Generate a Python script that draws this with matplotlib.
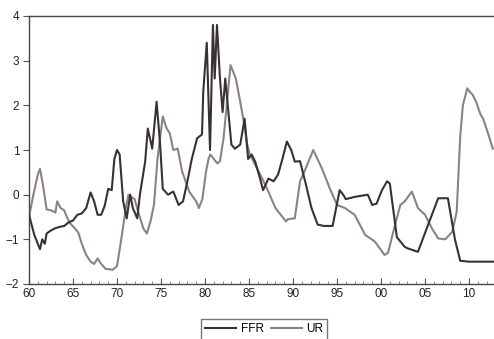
import matplotlib
matplotlib.use("Agg")
import matplotlib.pyplot as plt
from matplotlib.ticker import MultipleLocator, FixedLocator

# Federal funds rate (standardised), date in years
ffr_t = [1960.0, 1960.6, 1961.0, 1961.25, 1961.5, 1961.8, 1962.0, 1962.5, 1963.0, 1963.5,
         1964.0, 1964.5, 1965.0, 1965.5, 1966.0, 1966.5, 1967.0, 1967.4, 1967.8, 1968.2,
         1968.6, 1969.0, 1969.4, 1969.7, 1970.0, 1970.3, 1970.7, 1971.1, 1971.5, 1971.8,
         1972.3, 1972.6, 1973.2, 1973.5, 1974.0, 1974.5, 1974.9, 1975.2, 1975.8, 1976.4,
         1977.0, 1977.5, 1978.0, 1978.5, 1979.1, 1979.66, 1979.8, 1980.2, 1980.57, 1980.9,
         1981.1, 1981.36, 1981.7, 1982.0, 1982.3, 1983.0, 1983.4, 1984.0, 1984.5, 1984.9,
         1985.3, 1985.7, 1986.2, 1986.6, 1987.2, 1987.8, 1988.3, 1988.8, 1989.3, 1989.8,
         1990.2, 1990.8, 1991.5, 1992.1, 1992.8, 1993.5, 1994.5, 1995.3, 1995.7, 1996.0,
         1997.0, 1998.5, 1999.0, 1999.5, 2000.1, 2000.7, 2001.0, 2001.8, 2002.7, 2003.0,
         2004.2, 2005.3, 2006.5, 2007.6, 2008.4, 2009.0, 2010.0, 2011.0, 2012.8]
ffr = [-0.45, -0.9, -1.1, -1.22, -1.0, -1.1, -0.87, -0.8, -0.75, -0.72,
       -0.7, -0.62, -0.58, -0.45, -0.42, -0.3, 0.05, -0.15, -0.45, -0.45,
       -0.25, 0.13, 0.1, 0.8, 1.0, 0.9, -0.15, -0.53, 0.0, -0.3,
       -0.53, 0.0, 0.74, 1.48, 1.03, 2.08, 1.12, 0.13, 0.0, 0.07,
       -0.23, -0.15, 0.3, 0.8, 1.26, 1.35, 2.3, 3.4, 1.0, 3.8,
       2.6, 3.8, 2.6, 1.85, 2.6, 1.12, 1.03, 1.12, 1.7, 0.8,
       0.9, 0.74, 0.4, 0.1, 0.36, 0.3, 0.45, 0.8, 1.19, 1.0,
       0.74, 0.75, 0.2, -0.3, -0.67, -0.7, -0.7, 0.1, 0.0, -0.1,
       -0.05, 0.0, -0.23, -0.2, 0.1, 0.3, 0.25, -0.95, -1.17, -1.2,
       -1.28, -0.7, -0.08, -0.08, -1.0, -1.48, -1.5, -1.5, -1.5]

# Unemployment rate (standardised), date in years
ur_t = [1960.0, 1960.5, 1961.0, 1961.25, 1961.6, 1962.0, 1962.5, 1963.0, 1963.2, 1963.6,
        1964.0, 1964.3, 1964.7, 1965.2, 1965.6, 1966.0, 1966.5, 1967.0, 1967.4, 1967.8,
        1968.2, 1968.7, 1969.5, 1970.0, 1970.5, 1971.0, 1971.3, 1971.6, 1972.0, 1972.4,
        1973.0, 1973.4, 1973.8, 1974.2, 1974.6, 1975.2, 1975.6, 1976.0, 1976.4, 1976.9,
        1977.4, 1978.2, 1979.0, 1979.3, 1979.7, 1980.1, 1980.4, 1980.6, 1981.4, 1981.7,
        1982.1, 1982.4, 1982.9, 1983.5, 1984.0, 1984.4, 1984.8, 1985.1, 1985.7, 1986.5,
        1987.2, 1988.0, 1989.2, 1989.4, 1990.2, 1990.8, 1991.3, 1992.3, 1993.3, 1994.2,
        1995.0, 1995.9, 1997.0, 1998.2, 1999.3, 2000.4, 2000.8, 2001.6, 2002.2, 2002.7,
        2003.5, 2004.2, 2005.0, 2005.8, 2006.5, 2007.3, 2008.1, 2008.6, 2009.0, 2009.3,
        2009.8, 2010.1, 2010.4, 2010.8, 2011.3, 2011.6, 2012.2, 2012.7]
ur = [-0.5, 0.0, 0.45, 0.58, 0.2, -0.33, -0.35, -0.4, -0.15, -0.3,
      -0.35, -0.5, -0.65, -0.75, -0.85, -1.1, -1.35, -1.5, -1.55, -1.43,
      -1.55, -1.66, -1.68, -1.6, -0.98, -0.3, 0.0, -0.05, -0.1, -0.38,
      -0.76, -0.87, -0.6, -0.23, 0.8, 1.75, 1.5, 1.37, 1.0, 1.03,
      0.52, 0.07, -0.15, -0.3, -0.1, 0.5, 0.8, 0.9, 0.7, 0.75,
      1.25, 1.86, 2.9, 2.6, 2.08, 1.64, 1.12, 0.9, 0.67, 0.36,
      0.07, -0.3, -0.6, -0.55, -0.53, 0.3, 0.52, 1.0, 0.58, 0.13,
      -0.23, -0.3, -0.45, -0.9, -1.05, -1.35, -1.3, -0.67, -0.23, -0.15,
      0.07, -0.3, -0.45, -0.76, -0.98, -1.0, -0.83, -0.38, 1.3, 2.0,
      2.38, 2.3, 2.24, 2.08, 1.8, 1.7, 1.35, 1.03]

tick_years = [1960, 1965, 1970, 1975, 1980, 1985, 1990, 1995, 2000, 2005, 2010]
tick_labels = ["60", "65", "70", "75", "80", "85", "90", "95", "00", "05", "10"]

plt.rcParams['font.family'] = ['Liberation Sans', 'DejaVu Sans']

fig = plt.figure(figsize=(4.94, 3.39), dpi=100)
ax = fig.add_axes([29 / 494, 1 - 284 / 339, 1 - 29 / 494 + 0.01, (284 - 16) / 339])

ffr_color = "#3a3131"
ur_color = "#8c8381"
ax.plot(ffr_t, ffr, color=ffr_color, lw=1.5, label="FFR", zorder=3)
ax.plot(ur_t, ur, color=ur_color, lw=1.5, label="UR", zorder=2)

ax.set_xlim(1960, 2013.4)
ax.set_ylim(-2, 4)
ax.xaxis.set_major_locator(FixedLocator(tick_years))
ax.set_xticklabels(tick_labels)
ax.xaxis.set_minor_locator(MultipleLocator(1))
ax.yaxis.set_major_locator(MultipleLocator(1))

for s in ("left", "bottom", "top"):
    ax.spines[s].set_color("#4a4444")
    ax.spines[s].set_linewidth(1.0)
ax.spines["right"].set_visible(False)

ax.tick_params(axis="x", which="major", direction="in", length=4, width=0.8,
               colors="#555", labelcolor="#222", labelsize=8.5, pad=3)
ax.tick_params(axis="x", which="minor", direction="in", length=2.5, width=0.6, colors="#777")
ax.tick_params(axis="y", which="major", direction="out", length=4, width=0.8,
               colors="#555", labelcolor="#222", labelsize=8.5, pad=3)

fig.legend(loc="upper center", bbox_to_anchor=(0.535, 0.058), ncol=2,
           frameon=True, fancybox=False, edgecolor="#555", fontsize=8.5,
           handlelength=2.6, handletextpad=0.4, columnspacing=0.6,
           borderpad=0.35, borderaxespad=0.0)

fig.savefig("out.png", dpi=100)
